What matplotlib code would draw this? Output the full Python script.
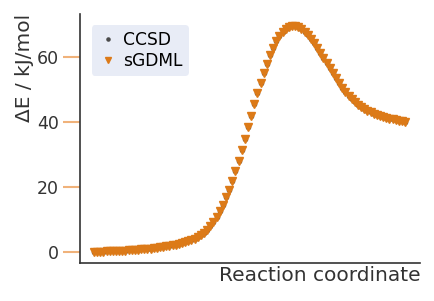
import numpy as np
import matplotlib
matplotlib.use("Agg")
import matplotlib.pyplot as plt

# energy profile along the reaction path (kJ/mol)
ccsd = [0.00, 0.04, 0.08, 0.12, 0.17, 0.21, 0.25, 0.30, 0.34, 0.39,
        0.44, 0.50, 0.56, 0.63, 0.70, 0.78, 0.86, 0.95, 1.05, 1.16,
        1.28, 1.41, 1.55, 1.70, 1.87, 2.06, 2.27, 2.50, 2.75, 3.00,
        3.30, 3.70, 4.15, 4.60, 5.20, 5.90, 6.80, 8.00, 9.30, 10.8,
        12.6, 14.6, 16.8, 19.2, 21.9, 24.8, 27.9, 31.2, 34.7, 38.3,
        41.9, 45.4, 48.8, 52.0, 55.1, 57.9, 60.5, 62.8, 64.7, 66.3,
        67.6, 68.6, 69.2, 69.5, 69.4, 69.1, 68.5, 67.7, 66.7, 65.5,
        64.2, 62.8, 61.3, 59.7, 58.1, 56.5, 54.9, 53.4, 51.9, 50.5,
        49.2, 48.0, 47.0, 46.1, 45.3, 44.6, 44.0, 43.4, 42.9, 42.5,
        42.1, 41.8, 41.5, 41.2, 41.0, 40.8, 40.6, 40.4, 40.2, 40.0]
sgdml = list(ccsd)
coord = np.arange(len(ccsd))

yticks = [0, 20, 40, 60]

fig = plt.figure(figsize=(4.35, 3.01), dpi=100)
ax = fig.add_axes([0.183, 0.126, 0.783, 0.827])

ax.plot(coord, ccsd, ls="none", marker="o", ms=3, color="#4a4a4a", label="CCSD")
ax.plot(coord, sgdml, ls="none", marker="v", ms=5.2, color="#dc7a18", label="sGDML")

ax.set_xlim(-4.6, 103.8)
ax.set_ylim(-3.4, 73.1)
ax.set_xticks([])
ax.set_yticks(yticks)
ax.tick_params(axis="y", length=12, width=1.5, color="#f0b27a",
               labelsize=12.5, labelcolor="#333333", pad=3)

for s in ["top", "right"]:
    ax.spines[s].set_visible(False)
for s in ["left", "bottom"]:
    ax.spines[s].set_color("#333333")
    ax.spines[s].set_linewidth(1.2)

ax.set_xlabel("Reaction coordinate", loc="right", fontsize=14.5, color="#333333", labelpad=2)
ax.set_ylabel("ΔE / kJ/mol", loc="top", fontsize=14.5, color="#333333", labelpad=2)

leg = ax.legend(loc="upper left", fontsize=12.3, frameon=True, fancybox=True,
                handletextpad=0.3, borderpad=0.35, labelspacing=0.15,
                handlelength=1.2, markerscale=0.75, bbox_to_anchor=(0.01, 0.99))
leg.get_frame().set_facecolor("#e8ecf6")
leg.get_frame().set_edgecolor("none")
leg.get_frame().set_alpha(1)

fig.savefig("out.png", dpi=100)
